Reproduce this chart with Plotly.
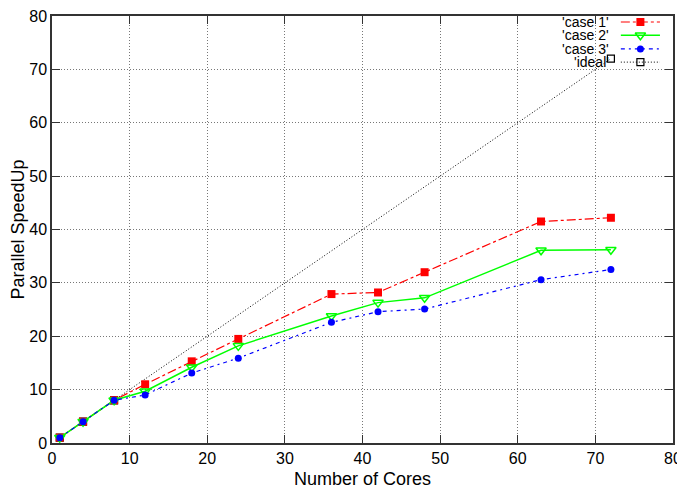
"""
Parallel speedup versus number of cores (gnuplot-style look).
"""

import plotly.graph_objects as go

# data
cores = [1, 4, 8, 12, 18, 24, 36, 42, 48, 63, 72]
case1 = [1, 4, 8, 11.0, 15.3, 19.5, 27.9, 28.2, 32.0, 41.5, 42.2]
case2 = [1, 4, 8, 9.7, 14.2, 18.2, 23.8, 26.3, 27.2, 36.1, 36.2]
case3 = [1, 4, 8, 9.0, 13.1, 15.9, 22.6, 24.6, 25.1, 30.6, 32.5]
ideal_cores = [1, 4, 8, 72]
ideal = [1, 4, 8, 72]

x_ticks = [0, 10, 20, 30, 40, 50, 60, 70, 80]
y_ticks = [0, 10, 20, 30, 40, 50, 60, 70, 80]

FONT = "Liberation Sans, Arial, Helvetica, sans-serif"

series = [
    dict(name="'case 1'", x=cores, y=case1,
         line=dict(color="#ff0000", width=1.2, dash="dashdot"),
         marker=dict(symbol="square", size=8, color="#ff0000")),
    dict(name="'case 2'", x=cores, y=case2,
         line=dict(color="#00ff00", width=1.5, dash="solid"),
         marker=dict(symbol="triangle-down-open", size=9, color="#00ff00",
                     line=dict(width=1.5, color="#00ff00"))),
    dict(name="'case 3'", x=cores, y=case3,
         line=dict(color="#0000ff", width=1.2, dash="4px,4px,2px,4px"),
         marker=dict(symbol="circle", size=7, color="#0000ff")),
    dict(name="'ideal'", x=ideal_cores, y=ideal,
         line=dict(color="#000000", width=1, dash="1px,2px"),
         marker=dict(symbol="square-open", size=7, color="#000000",
                     line=dict(width=1.2, color="#000000"))),
]

fig = go.Figure()

# draw ideal first so the cases sit on top
for s in [series[3], series[0], series[1], series[2]]:
    fig.add_trace(go.Scatter(x=s["x"], y=s["y"], mode="lines+markers",
                             line=s["line"], marker=s["marker"],
                             name=s["name"], showlegend=False))

# gnuplot-like key: right aligned text followed by a sample
key_y = [0.986, 0.955, 0.923, 0.892]
for s, ky in zip(series, key_y):
    fig.add_trace(go.Scatter(x=[0.916, 0.979], y=[ky, ky], mode="lines",
                             line=s["line"], xaxis="x2", yaxis="y2",
                             showlegend=False, hoverinfo="skip"))
    fig.add_trace(go.Scatter(x=[0.9475], y=[ky], mode="markers",
                             marker=s["marker"], xaxis="x2", yaxis="y2",
                             showlegend=False, hoverinfo="skip"))
    fig.add_annotation(text=s["name"], xref="x2", yref="y2", x=0.900, y=ky,
                       xanchor="right", yanchor="middle", showarrow=False,
                       font=dict(family=FONT, size=14, color="black"))

axis_style = dict(
    showline=True, linecolor="#333333", linewidth=1.5, mirror="all",
    ticks="inside", ticklen=8, tickwidth=1.2, tickcolor="#333333",
    showgrid=True, gridcolor="#777777", griddash="1px,2px", gridwidth=1,
    zeroline=False, automargin=False, ticklabeloverflow="allow",
    tickfont=dict(family=FONT, size=16, color="black"),
)

# the page sits 8px in from the window corner, so the figure is 8px smaller
fig.update_layout(
    width=677, height=486,
    margin=dict(l=44, r=12, t=8, b=51),
    plot_bgcolor="white", paper_bgcolor="white",
    font=dict(family=FONT, color="black"),
    xaxis=dict(range=[0, 80], tickvals=x_ticks,
               title=dict(text="Number of Cores", font=dict(size=18), standoff=6),
               **axis_style),
    yaxis=dict(range=[0, 80], tickvals=y_ticks,
               title=dict(text="Parallel SpeedUp", font=dict(size=18), standoff=6),
               **axis_style),
    xaxis2=dict(overlaying="x", range=[0, 1], visible=False),
    yaxis2=dict(overlaying="y", range=[0, 1], visible=False),
)

fig.write_html("out.html")
